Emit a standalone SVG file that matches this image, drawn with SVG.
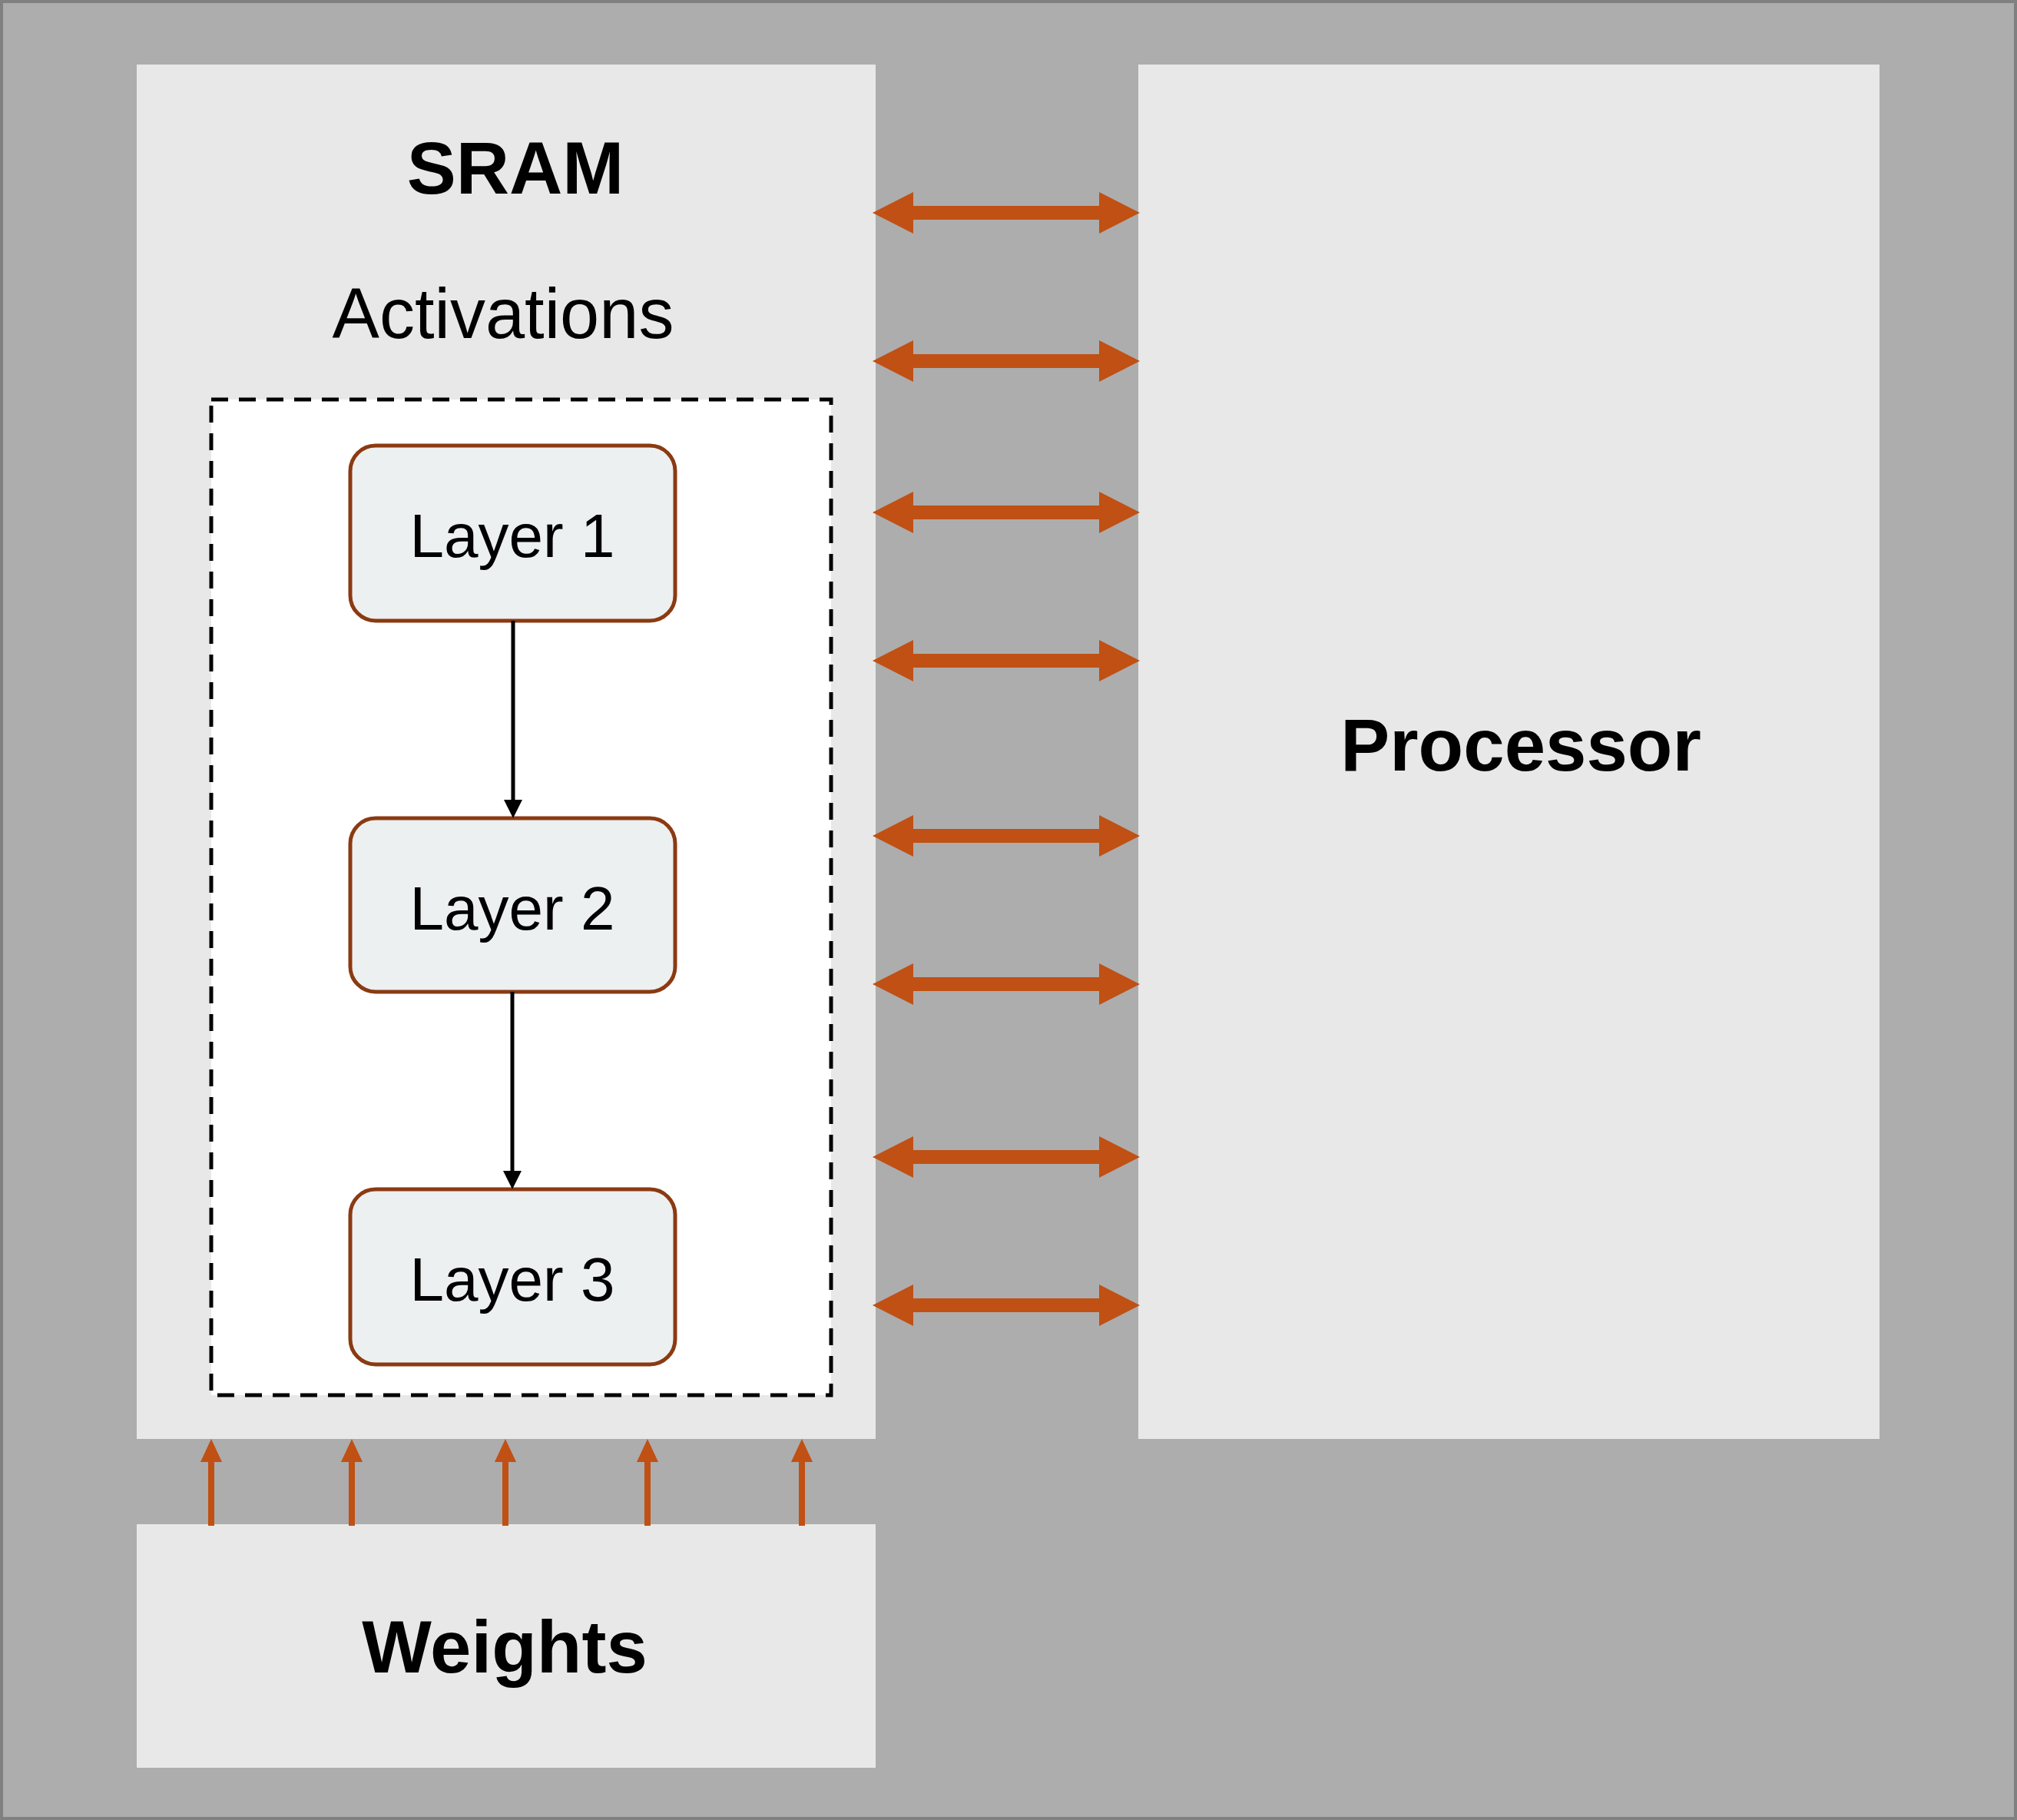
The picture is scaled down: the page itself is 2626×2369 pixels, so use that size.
<svg xmlns="http://www.w3.org/2000/svg" width="2626" height="2369" viewBox="0 0 2626 2369">
<defs>
<style>
.panel{fill:#e8e8e8}
.layer{fill:#ecf0f1;stroke:#8b3a12;stroke-width:5}
.t{font-family:"Liberation Sans",Arial,sans-serif;text-anchor:middle;fill:#000}
.b{font-weight:bold;font-size:96px}
.h{fill:#c0504d}
</style>
<marker id="ah" markerWidth="10" markerHeight="10" refX="9" refY="5" orient="auto" markerUnits="userSpaceOnUse"/>
<g id="dbl"><rect x="1188" y="-9" width="244" height="18" fill="#c05014"/><polygon points="1136,0 1189,-27 1189,27" fill="#c05014"/><polygon points="1484,0 1431,-27 1431,27" fill="#c05014"/></g>
<g id="up"><rect x="-4" y="1900" width="8" height="86" fill="#c05014"/><polygon points="0,1873 -14,1903 14,1903" fill="#c05014"/></g>
<g id="down"><polygon points="0,0 -12,-24 12,-24" fill="#000"/></g>
</defs>
<rect x="2" y="2" width="2622" height="2365" fill="#adadad" stroke="#808080" stroke-width="4"/>
<g id="sram"><rect class="panel" x="178" y="84" width="962" height="1789"/>
<text class="t b" x="671" y="252">SRAM</text>
<text class="t" x="655" y="440" font-size="92">Activations</text>
<rect x="275" y="520" width="807" height="1296" fill="#fff" stroke="#000" stroke-width="5" stroke-dasharray="22,14"/></g>
<g id="processor"><rect class="panel" x="1482" y="84" width="965" height="1789"/>
<text class="t b" x="1980" y="1003">Processor</text></g>
<g id="weights"><rect class="panel" x="178" y="1984" width="962" height="317"/>
<text class="t b" x="657" y="2177">Weights</text></g>
<g id="layer1"><rect class="layer" x="456" y="580" width="423" height="228" rx="33"/><text class="t" x="667" y="725" font-size="80">Layer 1</text></g>
<g id="layer2"><rect class="layer" x="456" y="1065" width="423" height="226" rx="33"/><text class="t" x="667" y="1210" font-size="80">Layer 2</text></g>
<g id="layer3"><rect class="layer" x="456" y="1548" width="423" height="228" rx="33"/><text class="t" x="667" y="1693" font-size="80">Layer 3</text></g>
<g id="connectors">
<line x1="668" y1="808" x2="668" y2="1042" stroke="#000" stroke-width="5"/>
<use href="#down" x="668" y="1065"/>
<line x1="667" y1="1291" x2="667" y2="1525" stroke="#000" stroke-width="5"/>
<use href="#down" x="667" y="1548"/>
<use href="#dbl" y="277"/><use href="#dbl" y="470"/><use href="#dbl" y="667"/><use href="#dbl" y="860"/>
<use href="#dbl" y="1088"/><use href="#dbl" y="1281"/><use href="#dbl" y="1506"/><use href="#dbl" y="1699"/>
<use href="#up" x="275"/><use href="#up" x="458"/><use href="#up" x="658"/><use href="#up" x="843"/><use href="#up" x="1044"/>
</g>
</svg>
